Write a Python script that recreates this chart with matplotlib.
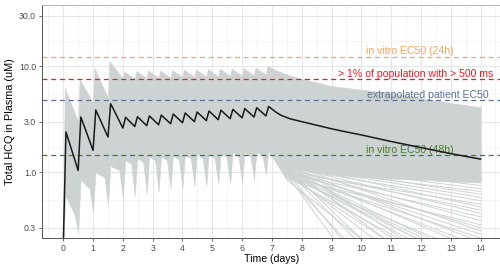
import numpy as np
import matplotlib.pyplot as plt

plt.rcParams['font.family'] = ['Liberation Sans', 'DejaVu Sans']

# dosing times (days)
doses = [0.0, 0.5, 1.0, 1.5, 2.0, 2.4, 2.8, 3.2, 3.6, 4.0, 4.4, 4.8, 5.2, 5.6, 6.0, 6.4, 6.8]

# median patient: value at dose time (trough) and shortly after (peak)
med_trough = [0.2, 1.04, 1.61, 2.15, 2.61, 2.70, 2.75, 2.80, 2.87, 2.93, 3.00, 3.07, 3.13, 3.20, 3.26, 3.32, 3.40]
med_peak = [2.40, 3.32, 3.87, 4.43, 3.30, 3.34, 3.40, 3.46, 3.54, 3.62, 3.70, 3.78, 3.85, 3.92, 3.99, 4.06, 4.18]
med_tail_t = [7.1, 7.3, 7.6, 8.0, 8.5, 9.0, 9.5, 10.0, 11.0, 12.0, 13.0, 14.0]
med_tail_v = [3.75, 3.45, 3.2, 3.0, 2.78, 2.57, 2.4, 2.25, 1.95, 1.71, 1.5, 1.33]

# population band: upper edge
up_pre = [0.24, 3.0, 4.5, 5.0, 7.6, 7.6, 7.7, 7.8, 7.8, 7.9, 7.9, 8.0, 8.0, 8.1, 8.1, 8.2, 8.3]
up_peak = [6.24, 7.5, 9.6, 11.2, 8.9, 9.0, 9.1, 9.1, 9.2, 9.3, 9.3, 9.4, 9.5, 9.5, 9.6, 9.7, 10.0]
up_tail_t = [7.2, 7.6, 8.0, 9.0, 10.0, 11.0, 12.0, 13.0, 14.0]
up_tail_v = [9.0, 8.2, 7.6, 6.5, 6.0, 5.6, 5.0, 4.5, 4.1]

# population band: lower edge (spike at dose, rise after, level before next spike)
lo_spike = [0.24, 0.27, 0.42, 0.5, 0.57, 0.6, 0.63, 0.66, 0.7, 0.72, 0.74, 0.75, 0.77, 0.78, 0.8, 0.85, 0.95]
lo_after = [0.6, 0.85, 1.0, 1.15, 1.3, 1.35, 1.4, 1.4, 1.45, 1.45, 1.5, 1.5, 1.5, 1.55, 1.55, 1.55, 1.6]
lo_before = [0.4, 0.7, 0.9, 1.05, 1.2, 1.25, 1.3, 1.3, 1.3, 1.35, 1.35, 1.35, 1.4, 1.4, 1.4, 1.45]
lo_tail_t = [7.2, 7.5, 8.0, 9.0, 10.0, 11.0, 12.0, 13.0, 14.0]
lo_tail_v = [1.4, 1.2, 1.05, 0.95, 0.9, 0.87, 0.85, 0.82, 0.8]

# individual patients falling off after dosing stops
fan_knee = [0.95, 1.0, 0.9, 1.05, 1.1, 0.85, 1.0, 1.15, 0.95, 1.05, 1.2, 0.9, 1.0,
            1.1, 0.95, 1.0, 1.05, 0.9, 1.1, 1.0, 1.15, 0.95, 1.05, 1.2, 1.0, 0.9,
            1.1, 1.0, 1.15, 1.05, 1.2, 1.0, 1.1, 1.15, 1.2, 1.1, 1.2, 1.25]
fan_end = [0.003, 0.006, 0.01, 0.015, 0.02, 0.03, 0.04, 0.05, 0.06, 0.07, 0.08, 0.09, 0.1,
           0.11, 0.12, 0.13, 0.14, 0.16, 0.18, 0.2, 0.22, 0.24, 0.26, 0.28, 0.3, 0.32,
           0.35, 0.38, 0.41, 0.44, 0.47, 0.5, 0.54, 0.58, 0.62, 0.66, 0.7, 0.75]

# reference levels
ref_vals = [12.3, 7.54, 4.78, 1.44]
ref_labels = ['in vitro EC50 (24h)', '> 1% of population with > 500 ms',
              'extrapolated patient EC50', 'in vitro EC50 (48h)']
ref_colors = ['#f5a55a', '#ee1c22', '#5b7298', '#4a7a28']
ref_text_x = [11.63, 11.83, 12.24, 11.63]

band = '#cdd3d3'

# assemble curves
med_t, med_v = [], []
up_t, up_v = [], []
lo_t, lo_v = [], []
for i, d in enumerate(doses):
    med_t += [d, d + 0.09]
    med_v += [med_trough[i], med_peak[i]]
    up_t += [d, d + 0.05]
    up_v += [up_pre[i], up_peak[i]]
    lo_t += [d, d + 0.08]
    lo_v += [lo_spike[i], lo_after[i]]
    if i < len(lo_before):
        lo_t.append(doses[i + 1] - 0.12)
        lo_v.append(lo_before[i])
med_t += med_tail_t
med_v += med_tail_v
up_t += up_tail_t
up_v += up_tail_v
lo_t += lo_tail_t
lo_v += lo_tail_v

grid_t = np.union1d(up_t, lo_t)
up_i = 10 ** np.interp(grid_t, up_t, np.log10(up_v))
lo_i = 10 ** np.interp(grid_t, lo_t, np.log10(lo_v))
lo_i[0] = 0.2

fig = plt.figure(figsize=(5.0, 2.64), dpi=100)
ax = fig.add_axes([0.0848, 0.0996, 0.918, 0.8818])
ax.set_yscale('log')
ax.set_xlim(-0.7, 14.7)
ax.set_ylim(0.2415, 37.85)

# grid
for x in np.arange(-0.5, 15, 1.0):
    ax.axvline(x, color='#f1f1f1', lw=0.5, zorder=0)
for x in range(0, 15):
    ax.axvline(x, color='#ece4e8', lw=0.8, zorder=0)
for y in [0.5477, 1.732, 5.477, 17.32]:
    ax.axhline(y, color='#f1f1f1', lw=0.5, zorder=0)
for y in [0.3, 1, 3, 10, 30]:
    ax.axhline(y, color='#e6e6e6', lw=0.8, zorder=0)

ax.fill_between(grid_t, lo_i, up_i, color=band, lw=0.4, edgecolor=band, zorder=1)
for k, e in zip(fan_knee, fan_end):
    ax.plot([6.9, 7.5, 14.0], [1.6, k, e], color=band, lw=0.7, zorder=1)

for v, lab, c, tx in zip(ref_vals, ref_labels, ref_colors, ref_text_x):
    ax.axhline(v, color=c, lw=0.9, ls=(0, (4, 3)), zorder=2)
    ax.text(tx, v * 1.005, lab, color=c, fontsize=7.6, ha='center', va='bottom', zorder=3)

ax.plot(med_t, med_v, color='#1a1a1a', lw=1.1, zorder=4)

ax.set_xticks(range(0, 15))
ax.set_yticks([0.3, 1, 3, 10, 30])
ax.set_yticklabels(['0.3', '1.0', '3.0', '10.0', '30.0'])
ax.minorticks_off()
ax.tick_params(labelsize=6.3, labelcolor='#4d4d4d', color='#555555', length=2.5, width=0.6, pad=2)
ax.set_xlabel('Time (days)', fontsize=7.6, labelpad=1)
ax.set_ylabel('Total HCQ in Plasma (uM)', fontsize=7.8, labelpad=3)
for s in ['left', 'bottom']:
    ax.spines[s].set_color('#555555')
    ax.spines[s].set_linewidth(0.7)
ax.spines['top'].set_color('#aaaaaa')
ax.spines['top'].set_linewidth(0.6)
ax.spines['right'].set_visible(False)

fig.savefig('out.png', dpi=100)
